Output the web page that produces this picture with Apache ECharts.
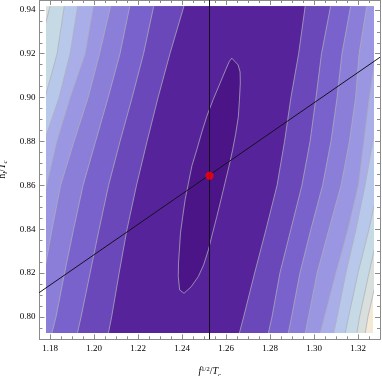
<!DOCTYPE html>
<html>
<head>
<meta charset="utf-8">
<script src="https://cdn.jsdelivr.net/npm/echarts@6/dist/echarts.min.js"></script>
<style>
  html, body { margin: 0; padding: 0; background: #fff; }
  #chart { width: 382px; height: 376px; }
</style>
</head>
<body>
<div id="chart"></div>
<script>
// ticks
var xTicks = [1.18, 1.20, 1.22, 1.24, 1.26, 1.28, 1.30, 1.32];
var yTicks = [0.80, 0.82, 0.84, 0.86, 0.88, 0.90, 0.92, 0.94];
var xMinor = [1.185, 1.19, 1.195, 1.205, 1.21, 1.215, 1.225, 1.23, 1.235, 1.245, 1.25, 1.255,
  1.265, 1.27, 1.275, 1.285, 1.29, 1.295, 1.305, 1.31, 1.315, 1.325];
var yMinor = [0.795, 0.805, 0.81, 0.815, 0.825, 0.83, 0.835, 0.845, 0.85, 0.855, 0.865, 0.87,
  0.875, 0.885, 0.89, 0.895, 0.905, 0.91, 0.915, 0.925, 0.93, 0.935];

// plot range (shaded area) and frame range
var plotX = [1.1782, 1.3268];
var plotY = [0.7927, 0.9416];
var frameX = [1.1752, 1.3300];
var frameY = [0.7898, 0.9445];

// contour crossings: x where each contour line cuts these rows (inner level first)
var crossY = [0.9425, 0.92, 0.90, 0.88, 0.86, 0.84, 0.82, 0.80, 0.792];
var leftX = [
  [1.2411, 1.2345, 1.2291, 1.2241, 1.2193, 1.2150, 1.2114, 1.2080, 1.2064],
  [1.2273, 1.2225, 1.2173, 1.2118, 1.2066, 1.2023, 1.1982, 1.1941, 1.1923],
  [1.2164, 1.2118, 1.2064, 1.2007, 1.1950, 1.1907, 1.1866, 1.1827, 1.1807],
  [1.2077, 1.2025, 1.1973, 1.1909, 1.1848, 1.1809, 1.1773, 1.1736, 1.1718],
  [1.1998, 1.1959, 1.1891, 1.1830, 1.1784, 1.1741, 1.1695, 1.1650, 1.1632],
  [1.1927, 1.1891, 1.1841, 1.1773, 1.1718, 1.1664, 1.1609, 1.1555, 1.1532],
  [1.1866, 1.1832, 1.1777, 1.1718, 1.1664, 1.1609, 1.1555, 1.1500, 1.1477],
  [1.1802, 1.1745, 1.1691, 1.1636, 1.1582, 1.1527, 1.1473, 1.1418, 1.1395],
  [1.1500, 1.1450, 1.1400, 1.1350, 1.1300, 1.1250, 1.1200, 1.1150, 1.1130]
];
var rightX = [
  [1.2961, 1.2930, 1.2895, 1.2866, 1.2832, 1.2782, 1.2730, 1.2680, 1.2659],
  [1.3077, 1.3034, 1.3009, 1.2982, 1.2945, 1.2895, 1.2845, 1.2809, 1.2791],
  [1.3168, 1.3127, 1.3105, 1.3077, 1.3039, 1.2986, 1.2936, 1.2898, 1.2882],
  [1.3241, 1.3205, 1.3189, 1.3161, 1.3123, 1.3068, 1.3014, 1.2975, 1.2959],
  [1.3327, 1.3282, 1.3252, 1.3227, 1.3202, 1.3155, 1.3100, 1.3048, 1.3027],
  [1.3391, 1.3350, 1.3309, 1.3268, 1.3232, 1.3191, 1.3145, 1.3105, 1.3088],
  [1.3459, 1.3414, 1.3373, 1.3332, 1.3293, 1.3250, 1.3200, 1.3157, 1.3141],
  [1.3518, 1.3473, 1.3427, 1.3382, 1.3341, 1.3295, 1.3250, 1.3207, 1.3194],
  [1.3573, 1.3527, 1.3482, 1.3436, 1.3391, 1.3345, 1.3291, 1.3245, 1.3232]
];
// innermost closed contour
var innerRing = [
  [1.2626, 0.9180], [1.2655, 0.9149], [1.2664, 0.9117], [1.2665, 0.9067], [1.2661, 0.8990],
  [1.2656, 0.8913], [1.2643, 0.8830], [1.2630, 0.8762], [1.2614, 0.8689], [1.2595, 0.8610],
  [1.2577, 0.8534], [1.2558, 0.8457], [1.2539, 0.8383], [1.2520, 0.8306], [1.2498, 0.8237],
  [1.2474, 0.8184], [1.2441, 0.8137], [1.2409, 0.8108], [1.2389, 0.8123], [1.2383, 0.8184],
  [1.2384, 0.8246], [1.2388, 0.8306], [1.2393, 0.8383], [1.2403, 0.8457], [1.2414, 0.8534],
  [1.2429, 0.8610], [1.2445, 0.8689], [1.2467, 0.8762], [1.2489, 0.8839], [1.2512, 0.8913],
  [1.2541, 0.8990], [1.2573, 0.9066], [1.2598, 0.9126], [1.2614, 0.9163]
];

// best point and guide lines
var bestX = 1.2525;
var bestY = 0.8644;
var diagLine = [[1.1742, 0.8105], [1.3300, 0.9184]];

// colours: band inside each level (inner first), then the ring, then outside everything
var bandColors = ['#56239b', '#6a48b9', '#7a62cc', '#8a7ed9', '#9a96e2', '#a9aee9', '#b8c8ea', '#c6dae5', '#d8dfdd'];
var ringColor = '#4b1588';
var outerColor = '#f3e9d5';
var contourStroke = 'rgba(175,175,185,0.75)';
var frameGray = '#8a8a8a';
var serif = 'Liberation Serif';

// frame in pixels
var F = { left: 39.5, top: 0, width: 340.5, height: 339.3 };
var sx = F.width / (frameX[1] - frameX[0]);
var sy = F.height / (frameY[1] - frameY[0]);

var chart = echarts.init(document.getElementById('chart'), null, { renderer: 'canvas' });

function tickAxis(kind, position, values, len, withLabel) {
  var range = kind === 'x' ? frameX : frameY;
  return {
    type: 'value', gridIndex: 0, position: position,
    min: range[0], max: range[1],
    axisLine: { show: len > 4, onZero: false, lineStyle: { color: frameGray, width: 1 } },
    axisTick: { show: true, inside: true, length: len, customValues: values, lineStyle: { color: frameGray, width: 1 } },
    axisLabel: withLabel ? {
      show: true, customValues: values, margin: kind === 'x' ? 5 : 4,
      formatter: function (v) { return v.toFixed(2); },
      fontFamily: serif, fontSize: 9, color: '#000'
    } : { show: false },
    splitLine: { show: false }
  };
}

var xMain = tickAxis('x', 'bottom', xTicks, 5, true);
xMain.name = '{i|f}{s|1/2}{n|/}{i|T}{c|c}';
xMain.nameLocation = 'middle';
xMain.nameGap = 26;
xMain.nameTextStyle = {
  fontFamily: serif, fontSize: 10, color: '#000',
  rich: {
    i: { fontFamily: serif, fontStyle: 'italic', fontSize: 10, lineHeight: 13, verticalAlign: 'middle' },
    n: { fontFamily: serif, fontSize: 10, lineHeight: 13, verticalAlign: 'middle' },
    s: { fontFamily: serif, fontSize: 6.5, lineHeight: 8, verticalAlign: 'top' },
    c: { fontFamily: serif, fontStyle: 'italic', fontSize: 6.5, lineHeight: 8, verticalAlign: 'bottom' }
  }
};

var yMain = tickAxis('y', 'left', yTicks, 5, true);
yMain.name = '{n|h}{c|l}{n|/}{i|T}{c|c}';
yMain.nameLocation = 'middle';
yMain.nameGap = 26;
yMain.nameTextStyle = {
  fontFamily: serif, fontSize: 10, color: '#000',
  rich: {
    i: { fontFamily: serif, fontStyle: 'italic', fontSize: 10, lineHeight: 13, verticalAlign: 'middle' },
    n: { fontFamily: serif, fontSize: 10, lineHeight: 13, verticalAlign: 'middle' },
    c: { fontFamily: serif, fontStyle: 'italic', fontSize: 6.5, lineHeight: 8, verticalAlign: 'bottom' }
  }
};

var plotAxisX = { type: 'value', gridIndex: 1, min: plotX[0], max: plotX[1], show: false };
var plotAxisY = { type: 'value', gridIndex: 1, min: plotY[0], max: plotY[1], show: false };

function ptsOf(xs, api) {
  return xs.map(function (x, i) { return api.coord([x, crossY[i]]); });
}

var option = {
  animation: false,
  grid: [
    { left: F.left, top: F.top, width: F.width, height: F.height, outerBoundsMode: 'none', containLabel: false },
    {
      left: F.left + (plotX[0] - frameX[0]) * sx,
      top: F.top + (frameY[1] - plotY[1]) * sy,
      width: (plotX[1] - plotX[0]) * sx,
      height: (plotY[1] - plotY[0]) * sy,
      outerBoundsMode: 'none', containLabel: false,
      show: true, backgroundColor: outerColor, borderWidth: 0
    }
  ],
  xAxis: [
    xMain,
    tickAxis('x', 'bottom', xMinor, 3, false),
    tickAxis('x', 'top', xTicks, 5, false),
    tickAxis('x', 'top', xMinor, 3, false),
    plotAxisX
  ],
  yAxis: [
    yMain,
    tickAxis('y', 'left', yMinor, 3, false),
    tickAxis('y', 'right', yTicks, 5, false),
    tickAxis('y', 'right', yMinor, 3, false),
    plotAxisY
  ],
  series: [
    {
      name: 'bands', type: 'custom', xAxisIndex: 4, yAxisIndex: 4, clip: true, silent: true,
      data: leftX.map(function (_, i) { return [i]; }).concat([[leftX.length]]),
      renderItem: function (params, api) {
        var n = leftX.length;
        if (params.dataIndex === n) {
          return {
            type: 'polygon',
            shape: { points: innerRing.map(function (p) { return api.coord(p); }) },
            style: { fill: ringColor }
          };
        }
        var k = n - 1 - params.dataIndex;
        var pts = ptsOf(leftX[k], api).concat(ptsOf(rightX[k], api).reverse());
        return { type: 'polygon', shape: { points: pts }, style: { fill: bandColors[k] } };
      }
    },
    {
      name: 'contours', type: 'custom', xAxisIndex: 4, yAxisIndex: 4, clip: true, silent: true, z: 3,
      data: leftX.map(function (_, i) { return [i]; }).concat([[leftX.length]]),
      renderItem: function (params, api) {
        var k = params.dataIndex;
        var st = { stroke: contourStroke, lineWidth: 1, fill: null };
        if (k === leftX.length) {
          return {
            type: 'polygon',
            shape: { points: innerRing.map(function (p) { return api.coord(p); }) },
            style: st
          };
        }
        return {
          type: 'group',
          children: [
            { type: 'polyline', shape: { points: ptsOf(leftX[k], api) }, style: st },
            { type: 'polyline', shape: { points: ptsOf(rightX[k], api) }, style: st }
          ]
        };
      }
    },
    {
      name: 'vertical', type: 'line', xAxisIndex: 0, yAxisIndex: 0, clip: false, z: 4,
      symbol: 'none', silent: true,
      data: [[bestX, frameY[0]], [bestX, frameY[1]]],
      lineStyle: { color: '#15101f', width: 1 }
    },
    {
      name: 'diagonal', type: 'line', xAxisIndex: 0, yAxisIndex: 0, clip: false, z: 4,
      symbol: 'none', silent: true,
      data: diagLine,
      lineStyle: { color: '#15101f', width: 1 }
    },
    {
      name: 'best', type: 'scatter', xAxisIndex: 0, yAxisIndex: 0, z: 5,
      symbol: 'circle', symbolSize: 8, silent: true,
      data: [[bestX, bestY]],
      itemStyle: { color: '#ff0000' }
    }
  ]
};

chart.setOption(option);
</script>
</body>
</html>
